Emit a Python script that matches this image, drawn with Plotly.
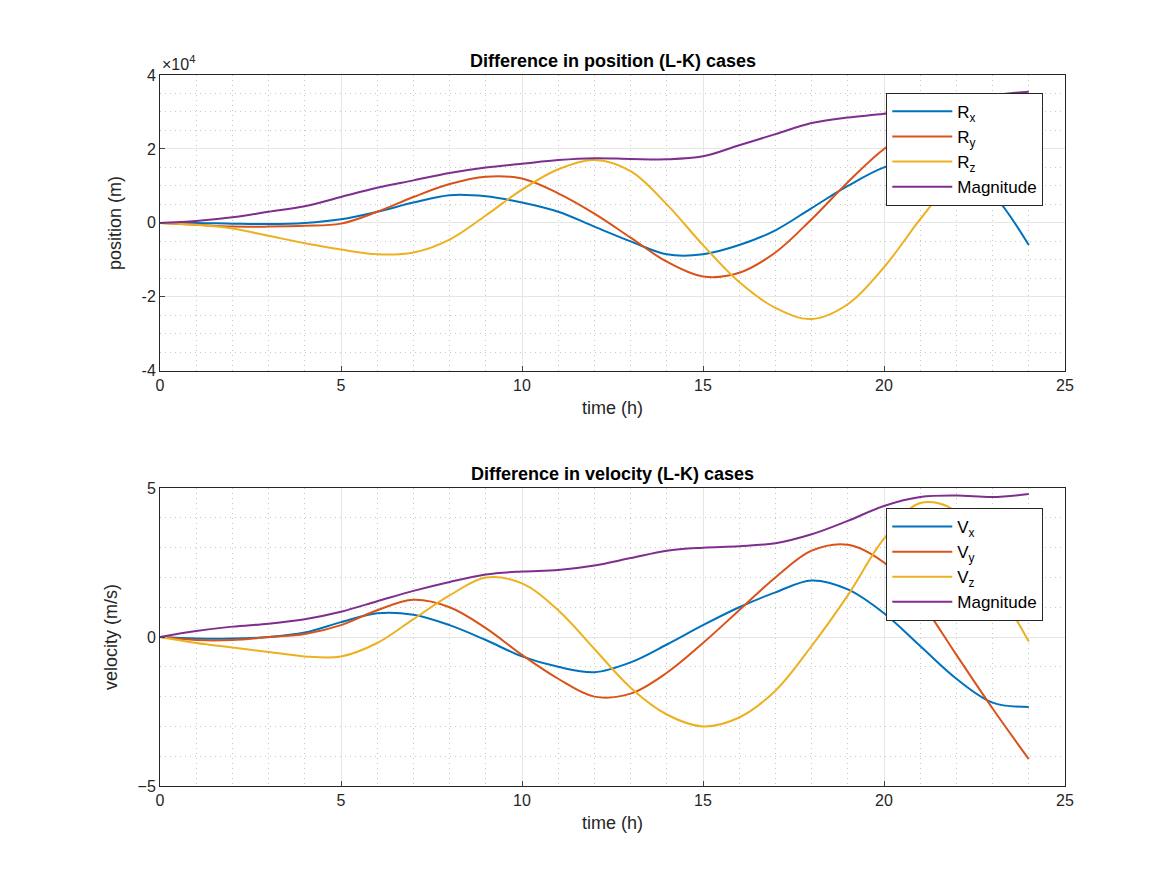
import plotly.graph_objects as go
from plotly.subplots import make_subplots

t = list(range(0, 25))

# position (units of 1e4 m)
rx = [0, 0, -0.02, -0.03, 0, 0.1, 0.3, 0.55, 0.75, 0.72, 0.55, 0.3, -0.1, -0.5, -0.85, -0.85, -0.6, -0.2, 0.4, 1.0, 1.5, 1.75, 1.6, 0.8, -0.6]
ry = [0, -0.05, -0.1, -0.1, -0.08, -0.02, 0.3, 0.7, 1.05, 1.25, 1.2, 0.8, 0.25, -0.4, -1.05, -1.45, -1.35, -0.8, 0.1, 1.1, 2.0, 2.6, 3.0, 3.1, 3.0]
rz = [0, -0.05, -0.15, -0.35, -0.55, -0.72, -0.85, -0.8, -0.45, 0.2, 0.9, 1.45, 1.7, 1.4, 0.5, -0.6, -1.6, -2.3, -2.6, -2.2, -1.2, 0.1, 1.3, 2.2, 2.6]
rm = [0, 0.05, 0.15, 0.3, 0.45, 0.7, 0.95, 1.15, 1.35, 1.5, 1.6, 1.7, 1.75, 1.73, 1.72, 1.8, 2.1, 2.4, 2.7, 2.85, 2.95, 3.1, 3.3, 3.45, 3.55]

# velocity (m/s)
vx = [0, -0.05, -0.05, 0, 0.15, 0.5, 0.8, 0.75, 0.4, -0.1, -0.65, -1.0, -1.18, -0.85, -0.25, 0.4, 1.0, 1.5, 1.9, 1.6, 0.8, -0.3, -1.4, -2.2, -2.35]
vy = [0, -0.1, -0.1, 0, 0.1, 0.4, 0.9, 1.25, 1.0, 0.3, -0.6, -1.4, -2.0, -1.9, -1.2, -0.2, 0.9, 2.0, 2.9, 3.1, 2.5, 1.2, -0.6, -2.4, -4.1]
vz = [0, -0.2, -0.35, -0.5, -0.65, -0.65, -0.2, 0.6, 1.4, 2.0, 1.8, 0.9, -0.4, -1.7, -2.6, -3.0, -2.7, -1.8, -0.3, 1.4, 3.3, 4.5, 4.2, 2.0, -0.15]
vm = [0, 0.2, 0.35, 0.45, 0.6, 0.85, 1.2, 1.55, 1.85, 2.1, 2.2, 2.25, 2.4, 2.65, 2.9, 3.0, 3.05, 3.15, 3.45, 3.9, 4.4, 4.7, 4.75, 4.7, 4.8]

colors = ["#0072BD", "#D95319", "#EDB120", "#7E2F8E"]
font = "Liberation Sans, Arial, sans-serif"

fig = make_subplots(rows=2, cols=1, vertical_spacing=0.14)

for i, (y, n) in enumerate([(rx, "R<sub>x</sub>"), (ry, "R<sub>y</sub>"), (rz, "R<sub>z</sub>"), (rm, "Magnitude")]):
    fig.add_trace(go.Scatter(x=t, y=y, name=n, mode="lines", line=dict(color=colors[i], width=2, shape="spline"),
                             legend="legend"), row=1, col=1)
for i, (y, n) in enumerate([(vx, "V<sub>x</sub>"), (vy, "V<sub>y</sub>"), (vz, "V<sub>z</sub>"), (vm, "Magnitude")]):
    fig.add_trace(go.Scatter(x=t, y=y, name=n, mode="lines", line=dict(color=colors[i], width=2, shape="spline"),
                             legend="legend2"), row=2, col=1)

axis_common = dict(showline=True, linecolor="#262626", mirror=True, ticks="inside", ticklen=5,
                   gridcolor="#e6e6e6", zeroline=False, tickfont=dict(size=16, color="#262626"),
                   minor=dict(showgrid=True, gridcolor="#c8c8c8", griddash="1px,4px", ticks=""))
title_font = dict(size=18, color="#262626")
fig.update_xaxes(range=[0, 25], dtick=5, minor_dtick=1, title=dict(text="time (h)", font=title_font, standoff=8),
                 **axis_common)
fig.update_yaxes(**axis_common)
fig.update_yaxes(range=[-4, 4], tickvals=[-4, -2, 0, 2, 4], ticktext=["-4", "-2", "0", "2", "4"],
                 minor_dtick=0.5, domain=[0.584, 1.0],
                 title=dict(text="position (m)", font=title_font), row=1, col=1)
fig.update_yaxes(range=[-5, 5], tickvals=[-5, 0, 5], minor_dtick=1, domain=[0, 0.419],
                 title=dict(text="velocity (m/s)", font=title_font), row=2, col=1)

leg = dict(bgcolor="white", bordercolor="#262626", borderwidth=1, font=dict(size=17, color="black"),
           xanchor="right", yanchor="top", tracegroupgap=2, itemwidth=60)
fig.update_layout(
    width=1167, height=875, plot_bgcolor="white", paper_bgcolor="white",
    font=dict(family=font, color="#262626"),
    margin=dict(l=152, r=110, t=67, b=97),
    legend=dict(x=0.976, y=0.975, **leg),
    legend2=dict(x=0.976, y=0.391, **leg),
    annotations=[
        dict(text="<b>Difference in position (L-K) cases</b>", x=0.5, y=1.003, xref="paper", yref="paper",
             xanchor="center", yanchor="bottom", showarrow=False, font=dict(size=18, color="black")),
        dict(text="<b>Difference in velocity (L-K) cases</b>", x=0.5, y=0.422, xref="paper", yref="paper",
             xanchor="center", yanchor="bottom", showarrow=False, font=dict(size=18, color="black")),
        dict(text="×10<sup>4</sup>", x=0, y=1.0, xref="paper", yref="paper", xanchor="left", yanchor="bottom",
             showarrow=False, font=dict(size=16, color="#262626")),
    ],
)

fig.write_html("out.html")
